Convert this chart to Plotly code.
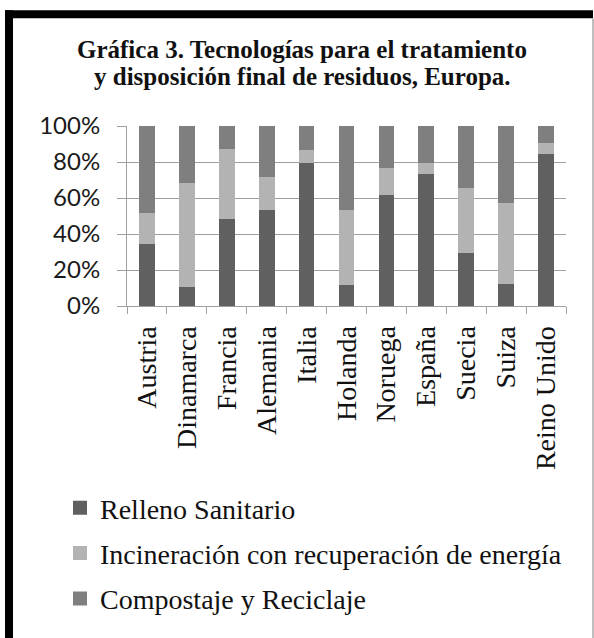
import plotly.graph_objects as go

countries = ["Austria", "Dinamarca", "Francia", "Alemania", "Italia", "Holanda",
             "Noruega", "España", "Suecia", "Suiza", "Reino Unido"]
relleno = [35, 11, 49, 54, 80, 12, 62, 74, 30, 13, 85]
incineracion = [17, 58, 39, 18, 7, 42, 15, 6, 36, 45, 6]
compostaje = [48, 31, 12, 28, 13, 46, 23, 20, 34, 42, 9]
series_names = ["Relleno Sanitario", "Incineración con recuperación de energía",
                "Compostaje y Reciclaje"]
series_colors = ["#606060", "#b3b3b3", "#7f7f7f"]
y_ticks = [0, 20, 40, 60, 80, 100]

W, H = 594, 638
L, R, T, B = 127, 28, 126, 331.5
pw = W - L - R
ph = H - T - B

def px_x(p):
    return (p - L) / pw

def px_y(p):
    return (H - B - p) / ph

fig = go.Figure()
for i, (name, vals, col) in enumerate(zip(series_names, [relleno, incineracion, compostaje], series_colors)):
    fig.add_trace(go.Bar(
        x=countries, y=vals, name=name, legendgroup=f"g{i}",
        marker=dict(color=col, line=dict(width=2, color=col)),
    ))

serif = "'Liberation Serif', 'Times New Roman', serif"
grid = "#a0a0a0"

fig.update_layout(
    width=W, height=H,
    margin=dict(l=L, r=R, t=T, b=B, autoexpand=False),
    paper_bgcolor="white", plot_bgcolor="white",
    barmode="stack", barnorm="percent", bargap=0.657,
    font=dict(family=serif, color="#111111"),
    showlegend=True,
    legend=dict(
        orientation="v", x=px_x(60), xanchor="left", y=px_y(484), yanchor="top",
        font=dict(family=serif, size=28, color="#111111"),
        tracegroupgap=6, traceorder="grouped", itemwidth=30,
        bgcolor="rgba(0,0,0,0)",
    ),
    xaxis=dict(
        type="category", tickangle=-90, tickfont=dict(family=serif, size=28, color="#111111"),
        showline=True, linecolor=grid, linewidth=1,
        ticks="outside", ticklen=7, tickcolor=grid, tickwidth=1, tickson="boundaries",
        showgrid=False, ticklabelstandoff=8,
    ),
    yaxis=dict(
        range=[0, 100], tickvals=y_ticks, ticktext=[f"{v}%" for v in y_ticks],
        tickfont=dict(family="Lato, 'Liberation Sans', sans-serif", size=24, color="#1a1a1a"),
        showline=True, linecolor=grid, linewidth=1,
        ticks="outside", ticklen=9, tickcolor=grid, tickwidth=1,
        showgrid=True, gridcolor=grid, gridwidth=1, zeroline=False,
        ticklabelstandoff=12,
    ),
    shapes=[
        dict(type="line", xref="paper", yref="paper", x0=px_x(9), x1=px_x(9),
             y0=px_y(10), y1=px_y(H + 20), line=dict(color="black", width=8)),
        dict(type="line", xref="paper", yref="paper", x0=px_x(5), x1=px_x(593),
             y0=px_y(14), y1=px_y(14), line=dict(color="black", width=8)),
        dict(type="line", xref="paper", yref="paper", x0=px_x(593), x1=px_x(593),
             y0=px_y(18), y1=px_y(H + 20), line=dict(color="#a8a8a8", width=1.5)),
    ],
    annotations=[
        dict(text="<b>Gráfica 3. Tecnologías para el tratamiento</b>", xref="paper", yref="paper",
             x=px_x(302), y=px_y(49), xanchor="center", yanchor="middle", showarrow=False,
             font=dict(family=serif, size=25, color="#111111")),
        dict(text="<b>y disposición final de residuos, Europa.</b>", xref="paper", yref="paper",
             x=px_x(302), y=px_y(76), xanchor="center", yanchor="middle", showarrow=False,
             font=dict(family=serif, size=25, color="#111111")),
    ],
)

fig.write_html("out.html", config={"displayModeBar": False},
               post_script="document.body.style.margin='0';document.body.style.overflow='hidden';")
